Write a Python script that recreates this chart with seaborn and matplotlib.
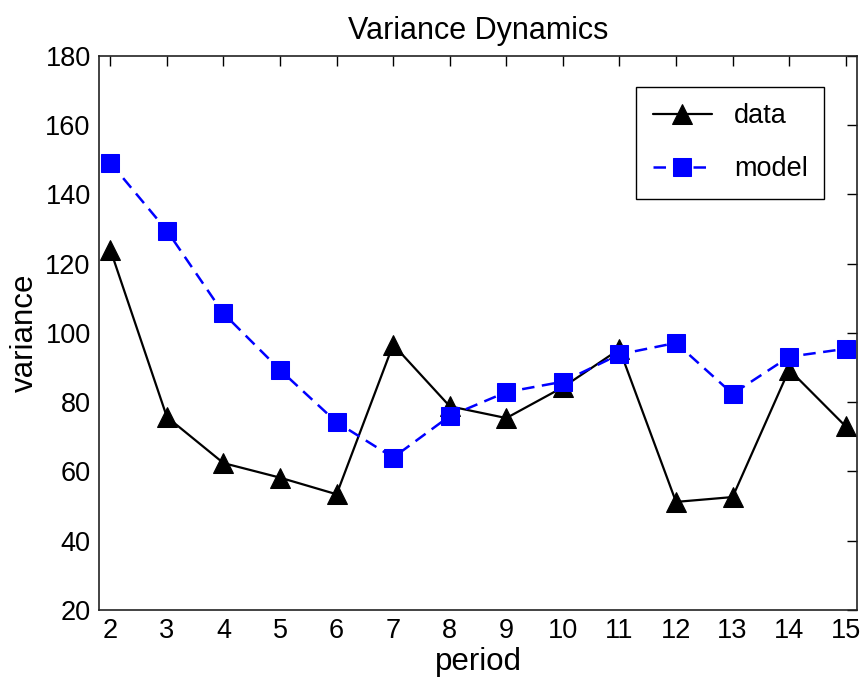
import matplotlib
matplotlib.use("Agg")
import matplotlib.pyplot as plt
import seaborn as sns
import pandas as pd

periods = [2, 3, 4, 5, 6, 7, 8, 9, 10, 11, 12, 13, 14, 15]
data_values = [124, 75.7, 62.4, 58.2, 53.4, 96.6, 78.8, 75.4, 84.3, 95.3, 51.2, 52.6, 89.4, 73.0]
model_values = [149.1, 129.5, 105.6, 89.3, 74.2, 64.0, 76.0, 82.9, 85.9, 93.8, 97.1, 82.4, 93.1, 95.4]
yticks = [20, 40, 60, 80, 100, 120, 140, 160, 180]

sns.set_style("white")
plt.rcParams['font.family'] = ['Liberation Sans', 'DejaVu Sans']
plt.rcParams['text.color'] = 'black'
plt.rcParams['axes.labelcolor'] = 'black'

df_data = pd.DataFrame({"period": periods, "variance": data_values})
df_model = pd.DataFrame({"period": periods, "variance": model_values})

fig = plt.figure(figsize=(8.65, 6.83), dpi=100)
ax = fig.add_axes([0.1145, 0.1069, 0.8763, 0.8115])

sns.lineplot(data=df_data, x="period", y="variance", ax=ax, color="black",
             marker="^", markersize=14, linewidth=1.6, label="data",
             markeredgecolor="black")
sns.lineplot(data=df_model, x="period", y="variance", ax=ax, color="#0000ff",
             marker="s", markersize=12.5, linewidth=1.8, label="model",
             markeredgecolor="#0000ff")
ax.lines[-1].set_linestyle((0, (5, 3)))

ax.set_xlim(1.8, 15.2)
ax.set_ylim(20, 180)
ax.set_xticks(periods)
ax.set_yticks(yticks)
ax.tick_params(direction="in", length=7, width=1, labelsize=19.5, top=True, right=True,
               pad=6, colors="black")
ax.tick_params(axis="x", labeltop=False)
ax.tick_params(axis="y", labelright=False)
for s in ax.spines.values():
    s.set_visible(True)
    s.set_color("#222222")
    s.set_linewidth(1.2)

ax.set_xlabel("period", fontsize=22.5, labelpad=2)
ax.set_ylabel("variance", fontsize=22.5, labelpad=4)
ax.set_title("Variance Dynamics", fontsize=22, pad=12)

leg = ax.legend(loc="upper right", bbox_to_anchor=(0.9565, 0.9435), borderaxespad=0,
                fontsize=19.5, frameon=True, fancybox=False, edgecolor="black",
                framealpha=1, handlelength=2.2, labelspacing=1.0, borderpad=0.6,
                handletextpad=0.8)
leg.get_frame().set_linewidth(1.0)

fig.savefig("out.png", dpi=100)
